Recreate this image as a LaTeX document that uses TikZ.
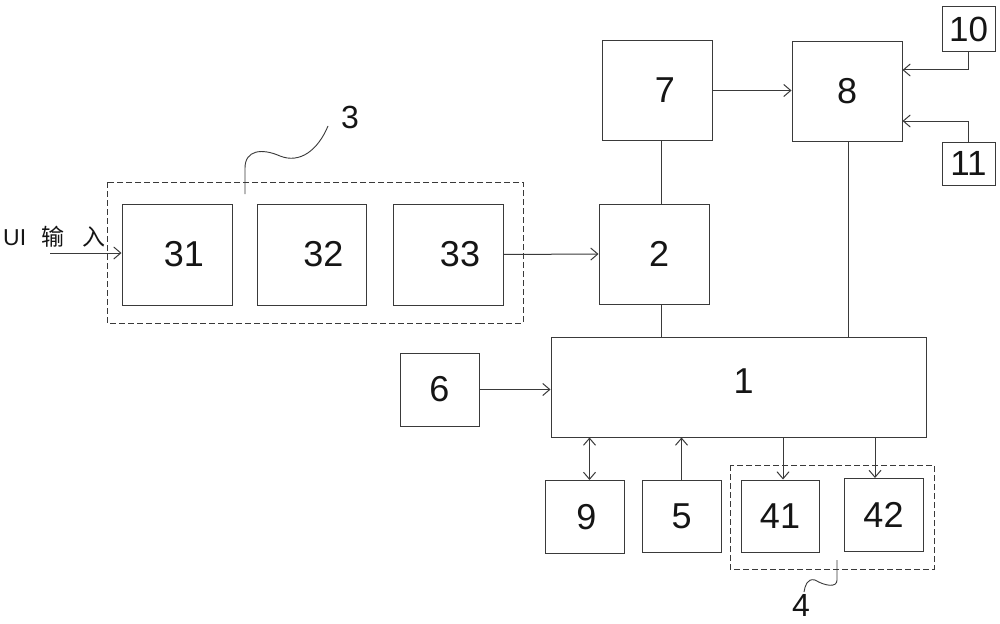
\documentclass[tikz,border=0pt]{standalone}
\usepackage{fontspec}
\setmainfont{Liberation Sans}
\newfontfamily\cjk{Noto Sans CJK SC}
\usetikzlibrary{arrows.meta,calc}
\definecolor{ln}{HTML}{3A3A3A}
\definecolor{tx}{HTML}{151515}
\begin{document}
\begin{tikzpicture}[x=1pt,y=-1pt,
  box/.style={draw=ln,line width=1pt,inner sep=0pt,text=tx,font=\fontsize{36}{36}\selectfont},
  small/.style={draw=ln,line width=1pt,inner sep=0pt,text=tx,font=\fontsize{35}{35}\selectfont},
  grp/.style={draw=ln,line width=0.9pt,dash pattern=on 6pt off 3pt},
  conn/.style={draw=ln,line width=1pt},
  arr/.style={conn,-{Straight Barb[length=7pt,width=12pt]}},
  darr/.style={conn,{Straight Barb[length=7pt,width=12pt]}-{Straight Barb[length=7pt,width=12pt]}},
  lab/.style={text=tx,font=\fontsize{32}{32}\selectfont,inner sep=0pt},
  squig/.style={draw=ln,line width=0.9pt}]
\useasboundingbox (0,0) rectangle (1000,623);
\fill[white] (0,0) rectangle (1000,623);
% group frames
\draw[grp] (107,182) rectangle (523,323);
\draw[grp] (730,465) rectangle (934,569);
% boxes
\node[box,minimum width=110pt,minimum height=101pt] (b31) at (177,254.5) {\hspace*{14pt}31};
\node[box,minimum width=109pt,minimum height=101pt] (b32) at (311.5,254.5) {\hspace*{24pt}32};
\node[box,minimum width=110pt,minimum height=101pt] (b33) at (448,254.5) {\hspace*{24pt}33};
\node[box,minimum width=110pt,minimum height=100pt] (b2) at (654,254) {\hspace*{10pt}2};
\node[box,minimum width=110pt,minimum height=99pt] (b7) at (657,90.5) {\hspace*{16pt}7};
\node[box,minimum width=110pt,minimum height=99pt] (b8) at (847,91.5) {8};
\node[small,minimum width=53pt,minimum height=45pt] (b10) at (968.5,29.5) {10};
\node[small,minimum width=53pt,minimum height=43pt] (b11) at (968.5,163.5) {11};
\node[box,minimum width=375pt,minimum height=100pt] (b1) at (738.5,387) {\raisebox{12pt}{\hspace*{10pt}1}};
\node[box,minimum width=79pt,minimum height=73pt] (b6) at (439.5,389.5) {6};
\node[box,minimum width=79pt,minimum height=73pt] (b9) at (584.5,517) {\hspace*{4pt}9};
\node[box,minimum width=79pt,minimum height=72pt] (b5) at (681.5,516) {5};
\node[box,minimum width=78pt,minimum height=72pt] (b41) at (780,516) {41};
\node[box,minimum width=79pt,minimum height=73pt] (b42) at (883.5,515) {42};
% labels
\node[lab] (l3) at (350,117) {3};
\node[lab] (l4) at (801,605) {4};
\node[text=tx,inner sep=0pt,anchor=west] (ui) at (3,237) {\fontsize{23}{23}\selectfont UI\hspace{15pt}{\cjk 输\hspace{18pt}入}};
\coordinate (uis) at (50,253);
% connectors
\draw[arr] (uis) -- (uis -| b31.west);
\draw[arr] (b33.east) -- (b2.west);
\draw[arr] (b7.east) -- (b7.east -| b8.west);
\draw[arr] (b10.south) -- (b10.south |- 0,70) -- (b8.east |- 0,70);
\draw[arr] (b11.north) -- (b11.north |- 0,121) -- (b8.east |- 0,121);
\draw[conn] ([xshift=4pt]b7.south) -- ([xshift=7pt]b2.north);
\draw[conn] ([xshift=7pt]b2.south) -- ([xshift=7pt]b2.south |- b1.north);
\draw[conn] ([xshift=1pt]b8.south) -- ([xshift=1pt]b8.south |- b1.north);
\draw[arr] (b6.east) -- (b6.east -| b1.west);
\draw[darr] ([xshift=5pt]b9.north) -- ([xshift=5pt]b9.north |- b1.south);
\draw[arr] (b5.north) -- (b5.north |- b1.south);
\draw[arr] ([xshift=3pt]b41.north |- b1.south) -- ([xshift=3pt]b41.north);
\draw[arr] ([xshift=-8.5pt]b42.north |- b1.south) -- ([xshift=-8.5pt]b42.north);
% squiggles
\draw[squig] (245,194) -- (245,168) .. controls (245,150) and (262,148) .. (280,156) .. controls (300,164) and (318,150) .. (328,126);
\draw[squig] (837,560) -- (837,580) .. controls (837,588) and (825,586) .. (815,580) .. controls (807,578) and (805,586) .. (804,592);
\end{tikzpicture}
\end{document}
